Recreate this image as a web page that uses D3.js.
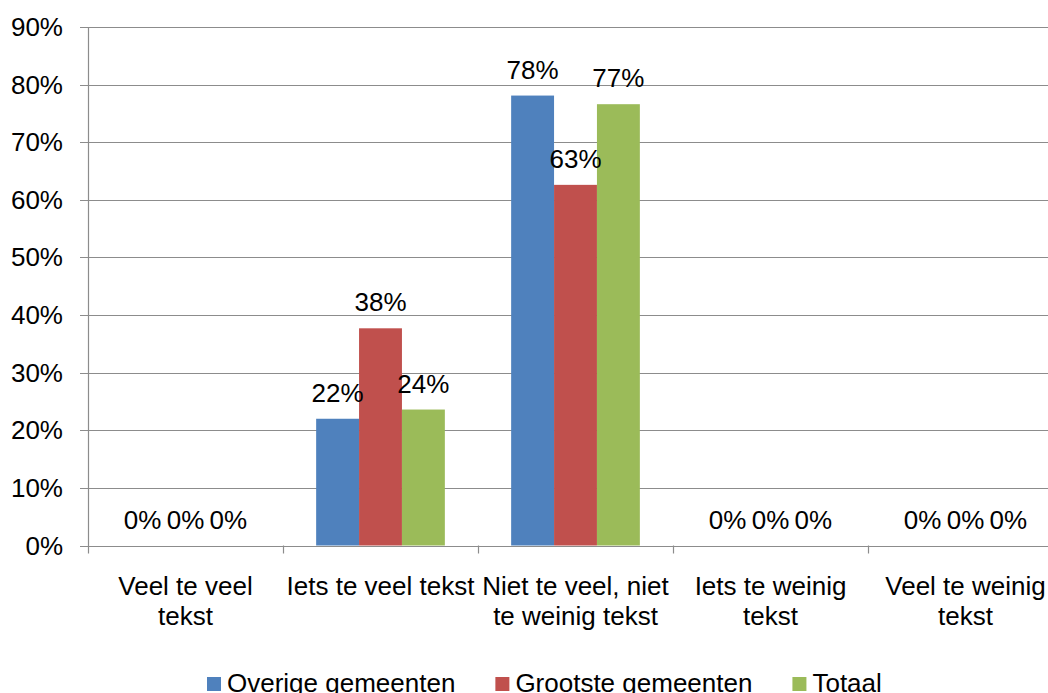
<!doctype html>
<html>
<head>
<meta charset="utf-8">
<style>
  body { margin: 0; background: #fff; }
  svg { display: block; font-family: "Liberation Sans", Arial, sans-serif; }
</style>
<script src="https://cdnjs.cloudflare.com/ajax/libs/d3/7.8.5/d3.min.js"></script>
</head>
<body>
<div id="chart"></div>
<script>
// categories (split into lines as in the original labels)
var categories = ["Veel te veel tekst", "Iets te veel tekst", "Niet te veel, niet te weinig tekst", "Iets te weinig tekst", "Veel te weinig tekst"];
var categoryLines = [["Veel te veel", "tekst"], ["Iets te veel tekst"], ["Niet te veel, niet", "te weinig tekst"], ["Iets te weinig", "tekst"], ["Veel te weinig", "tekst"]];
var seriesNames = ["Overige gemeenten", "Grootste gemeenten", "Totaal"];
var seriesColors = ["#4f81bd", "#c0504d", "#9bbb59"];
var overige = [0, 0.22, 0.781, 0, 0];
var grootste = [0, 0.377, 0.626, 0, 0];
var totaal = [0, 0.236, 0.766, 0, 0];
var yTicks = [0, 0.1, 0.2, 0.3, 0.4, 0.5, 0.6, 0.7, 0.8, 0.9];

var series = [overige, grootste, totaal];
var width = 1048, height = 693;
var plotLeft = 88, plotRight = 1063, plotTop = 27, plotBottom = 545.5;
var fontSize = 26;
var gridColor = "#8c8c8c";

var svg = d3.select("#chart").append("svg")
  .attr("width", width)
  .attr("height", height);

var y = d3.scaleLinear().domain([0, 0.9]).range([plotBottom, plotTop]);

var x0 = d3.scaleBand()
  .domain(categories)
  .range([plotLeft, plotRight])
  .paddingInner(0.34)
  .paddingOuter(0.17);

var x1 = d3.scaleBand()
  .domain(seriesNames)
  .range([0, x0.bandwidth()]);

// gridlines
svg.append("g")
  .selectAll("line")
  .data(yTicks)
  .enter()
  .append("line")
  .attr("x1", plotLeft - 8)
  .attr("x2", width)
  .attr("y1", d => Math.round(y(d)) + 0.5)
  .attr("y2", d => Math.round(y(d)) + 0.5)
  .attr("stroke", gridColor)
  .attr("stroke-width", 1.2);

// y axis labels
svg.append("g")
  .selectAll("text")
  .data(yTicks)
  .enter()
  .append("text")
  .attr("x", 63)
  .attr("y", d => y(d) + 9)
  .attr("text-anchor", "end")
  .attr("font-size", fontSize)
  .attr("fill", "#000")
  .text(d => d3.format(".0%")(d));

// vertical axis line
svg.append("line")
  .attr("x1", plotLeft + 0.5).attr("x2", plotLeft + 0.5)
  .attr("y1", plotTop).attr("y2", plotBottom + 8)
  .attr("stroke", gridColor)
  .attr("stroke-width", 1.2);

// category tick marks
var step = x0.step();
svg.append("g")
  .selectAll("line")
  .data(categories.slice(1))
  .enter()
  .append("line")
  .attr("x1", d => Math.round(x0(d) - x0.paddingInner() * step / 2) + 0.5)
  .attr("x2", d => Math.round(x0(d) - x0.paddingInner() * step / 2) + 0.5)
  .attr("y1", plotBottom)
  .attr("y2", plotBottom + 8)
  .attr("stroke", gridColor)
  .attr("stroke-width", 1.2);

// bars
var groups = svg.append("g")
  .selectAll("g")
  .data(categories)
  .enter()
  .append("g")
  .attr("transform", d => "translate(" + x0(d) + ",0)");

groups.selectAll("rect")
  .data((c, i) => series.map((s, j) => ({ name: seriesNames[j], value: s[i], color: seriesColors[j] })))
  .enter()
  .append("rect")
  .attr("x", d => x1(d.name))
  .attr("y", d => y(d.value))
  .attr("width", x1.bandwidth())
  .attr("height", d => y(0) - y(d.value))
  .attr("fill", d => d.color);

// data labels
groups.selectAll("text")
  .data((c, i) => series.map((s, j) => ({ name: seriesNames[j], value: s[i] })))
  .enter()
  .append("text")
  .attr("x", d => x1(d.name) + x1.bandwidth() / 2)
  .attr("y", d => y(d.value) - 17)
  .attr("text-anchor", "middle")
  .attr("font-size", fontSize)
  .attr("fill", "#000")
  .text(d => d3.format(".0%")(d.value));

// category labels
svg.append("g")
  .selectAll("text")
  .data(categories)
  .enter()
  .append("text")
  .attr("x", d => x0(d) + x0.bandwidth() / 2)
  .attr("y", 595)
  .attr("text-anchor", "middle")
  .attr("font-size", fontSize)
  .attr("fill", "#000")
  .each(function(d, i) {
    var t = d3.select(this);
    categoryLines[i].forEach(function(line, k) {
      t.append("tspan")
        .attr("x", x0(d) + x0.bandwidth() / 2)
        .attr("dy", k === 0 ? 0 : 30)
        .text(line);
    });
  });

// legend
var legend = svg.append("g").attr("transform", "translate(207, 0)");
var lx = 0;
seriesNames.forEach(function(name, i) {
  var item = legend.append("g").attr("transform", "translate(" + lx + ",0)");
  item.append("rect")
    .attr("x", 0).attr("y", 677)
    .attr("width", 14).attr("height", 14)
    .attr("fill", seriesColors[i]);
  var t = item.append("text")
    .attr("x", 20)
    .attr("y", 692)
    .attr("font-size", fontSize)
    .attr("fill", "#000")
    .text(name);
  lx += 20 + t.node().getComputedTextLength() + 40;
});
</script>
</body>
</html>
